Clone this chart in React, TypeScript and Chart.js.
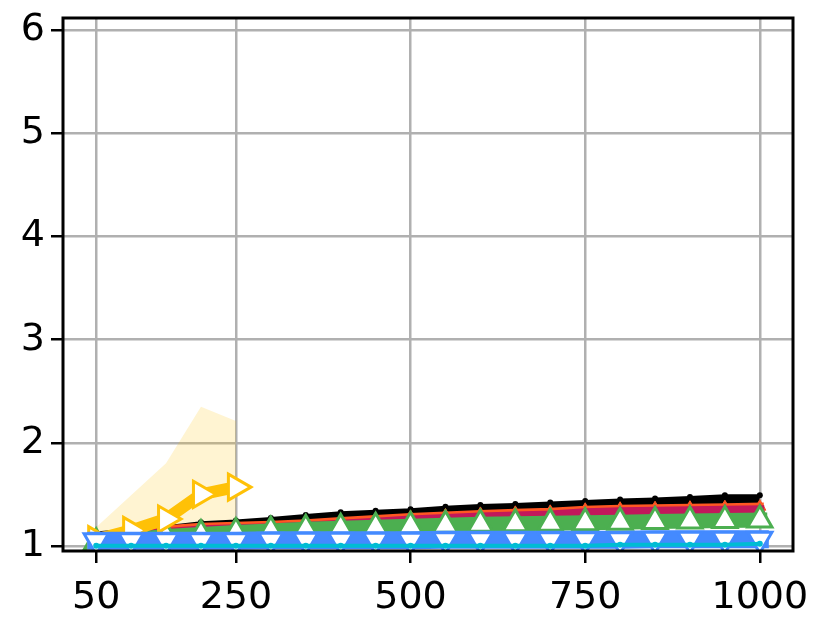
import React, { useEffect, useRef } from "react";
import { Chart, registerables } from "chart.js";

Chart.register(...registerables);

const xValues = [50, 100, 150, 200, 250, 300, 350, 400, 450, 500, 550, 600, 650, 700, 750, 800, 850, 900, 950, 1000];
const xTicks = [50, 250, 500, 750, 1000];
const yTicks = [1, 2, 3, 4, 5, 6];

const yellowX = [50, 100, 150, 200, 250];
const yellowMean = [1.06, 1.15, 1.26, 1.5, 1.57];
const yellowUpper = [1.18, 1.49, 1.8, 2.35, 2.21];
const yellowLower = [0.98, 0.99, 1.01, 1.04, 1.03];

const blackUpper = [1.13, 1.16, 1.19, 1.23, 1.245, 1.27, 1.3, 1.325, 1.34, 1.355, 1.38, 1.395, 1.405, 1.42, 1.435, 1.45, 1.46, 1.475, 1.49, 1.49];
const blackLower = [1.02, 1.05, 1.08, 1.11, 1.13, 1.15, 1.17, 1.19, 1.21, 1.23, 1.25, 1.26, 1.27, 1.28, 1.3, 1.31, 1.32, 1.33, 1.34, 1.34];
const orangeMean = [1.09, 1.13, 1.16, 1.185, 1.195, 1.205, 1.22, 1.24, 1.26, 1.28, 1.295, 1.31, 1.32, 1.33, 1.35, 1.36, 1.365, 1.37, 1.375, 1.38];
const crimsonMean = [1.06, 1.1, 1.13, 1.155, 1.165, 1.175, 1.19, 1.21, 1.23, 1.25, 1.265, 1.28, 1.29, 1.3, 1.32, 1.33, 1.335, 1.34, 1.345, 1.35];
const greenMean = [1.03, 1.06, 1.09, 1.11, 1.13, 1.145, 1.16, 1.17, 1.18, 1.19, 1.2, 1.21, 1.215, 1.22, 1.225, 1.23, 1.235, 1.24, 1.245, 1.25];
const blueMean = [1.05, 1.05, 1.05, 1.05, 1.05, 1.055, 1.055, 1.055, 1.055, 1.055, 1.06, 1.06, 1.06, 1.06, 1.06, 1.06, 1.065, 1.065, 1.065, 1.065];
const cyanMean = [1.0, 1.0, 1.0, 1.0, 1.0, 1.0, 1.0, 1.0, 1.0, 1.0, 1.0, 1.0, 1.0, 1.0, 1.0, 1.01, 1.01, 1.01, 1.01, 1.02];

const pts = (xs: number[], ys: number[]) => xs.map((x, i) => ({ x, y: ys[i] }));

const framePlugin = {
  id: "frame",
  afterDatasetsDraw(chart: any) {
    const { ctx, chartArea } = chart;
    ctx.save();
    ctx.strokeStyle = "#000";
    ctx.lineWidth = 3;
    ctx.strokeRect(chartArea.left, chartArea.top, chartArea.right - chartArea.left, chartArea.bottom - chartArea.top);
    ctx.restore();
  },
};

export default function App() {
  const ref = useRef<HTMLCanvasElement | null>(null);
  useEffect(() => {
    document.body.style.margin = "0";
    const common = { tension: 0, clip: 0, borderCapStyle: "square", borderJoinStyle: "round" };
    const tickFont = { family: "DejaVu Sans", size: 38 };
    const chart = new Chart(ref.current as HTMLCanvasElement, {
      type: "line",
      data: {
        datasets: [
          {
            ...common,
            data: pts(xValues, blackUpper),
            borderColor: "#000",
            borderWidth: 2,
            backgroundColor: "#000",
            pointBackgroundColor: "#000",
            pointRadius: 3,
            pointBorderWidth: 0,
            fill: { target: 1 },
            order: 10,
          },
          {
            ...common,
            data: pts(xValues, blackLower),
            borderWidth: 0,
            pointRadius: 0,
            fill: false,
            order: 11,
          },
          {
            ...common,
            data: pts(xValues, orangeMean),
            borderColor: "#FF5722",
            borderWidth: 8,
            pointStyle: "triangle",
            pointRadius: 7,
            pointBackgroundColor: "#FF5722",
            pointBorderColor: "#FF5722",
            pointBorderWidth: 1,
            fill: false,
            order: 9,
          },
          {
            ...common,
            data: pts(xValues, crimsonMean),
            borderColor: "#C2185B",
            borderWidth: 9,
            pointStyle: "triangle",
            pointRadius: 6,
            pointBackgroundColor: "#C2185B",
            pointBorderColor: "#C2185B",
            pointBorderWidth: 1,
            fill: false,
            order: 8,
          },
          {
            ...common,
            data: pts(xValues, greenMean),
            borderColor: "#4CAF50",
            borderWidth: 15,
            pointStyle: "triangle",
            pointRadius: 14,
            pointBackgroundColor: "#fff",
            pointBorderColor: "#4CAF50",
            pointBorderWidth: 3,
            fill: false,
            order: 7,
          },
          {
            ...common,
            data: pts(yellowX, yellowUpper),
            borderWidth: 0,
            pointRadius: 0,
            backgroundColor: "rgba(255,193,7,0.18)",
            fill: { target: 6 },
            order: 20,
          },
          {
            ...common,
            data: pts(yellowX, yellowLower),
            borderWidth: 0,
            pointRadius: 0,
            fill: false,
            order: 21,
          },
          {
            ...common,
            data: pts(yellowX, yellowMean),
            borderColor: "#FFC107",
            borderWidth: 12,
            pointStyle: "triangle",
            pointRotation: 90,
            pointRadius: 15,
            pointBackgroundColor: "#fff",
            pointBorderColor: "#FFC107",
            pointBorderWidth: 3,
            fill: false,
            order: 5,
          },
          {
            ...common,
            data: pts(xValues, blueMean),
            borderColor: "#448AFF",
            borderWidth: 18,
            pointStyle: "triangle",
            pointRotation: 180,
            pointRadius: 14,
            pointBackgroundColor: "#fff",
            pointBorderColor: "#448AFF",
            pointBorderWidth: 3,
            fill: false,
            order: 4,
          },
          {
            ...common,
            data: pts(xValues, cyanMean),
            borderColor: "#00BCD4",
            borderWidth: 4,
            pointRadius: 3,
            pointBackgroundColor: "#00BCD4",
            pointBorderWidth: 0,
            fill: false,
            order: 3,
          },
        ] as any,
      },
      options: {
        responsive: false,
        animation: false,
        events: [],
        layout: { padding: { left: 0, top: 18, right: 37, bottom: 0 } },
        plugins: {
          legend: { display: false },
          tooltip: { enabled: false },
          filler: { drawTime: "beforeDatasetDraw" } as any,
        },
        scales: {
          x: {
            type: "linear",
            min: 2.5,
            max: 1047.5,
            afterBuildTicks: (axis: any) => {
              axis.ticks = xTicks.map((v) => ({ value: v }));
            },
            afterFit: (axis: any) => {
              axis.height = 80;
              axis.paddingLeft = 0;
              axis.paddingRight = 0;
            },
            grid: { color: "#b0b0b0", lineWidth: 2.5, tickColor: "#000", tickWidth: 2.5, tickLength: 12 },
            border: { display: false },
            ticks: {
              color: "#000",
              font: tickFont,
              padding: 12,
              maxRotation: 0,
              autoSkip: false,
              callback: (v: any) => String(v),
            },
          },
          y: {
            type: "linear",
            min: 0.95,
            max: 6.12,
            afterBuildTicks: (axis: any) => {
              axis.ticks = yTicks.map((v) => ({ value: v }));
            },
            afterFit: (axis: any) => {
              axis.width = 63;
              axis.paddingTop = 0;
              axis.paddingBottom = 0;
            },
            grid: { color: "#b0b0b0", lineWidth: 2.5, tickColor: "#000", tickWidth: 2.5, tickLength: 12 },
            border: { display: false },
            ticks: {
              color: "#000",
              font: tickFont,
              padding: 6,
              autoSkip: false,
              callback: (v: any) => String(v),
            },
          },
        },
      },
      plugins: [framePlugin],
    });
    return () => chart.destroy();
  }, []);
  return (
    <div style={{ position: "absolute", left: 0, top: 0 }}>
      <canvas ref={ref} width={830} height={631} style={{ display: "block", width: 830, height: 631 }} />
    </div>
  );
}
